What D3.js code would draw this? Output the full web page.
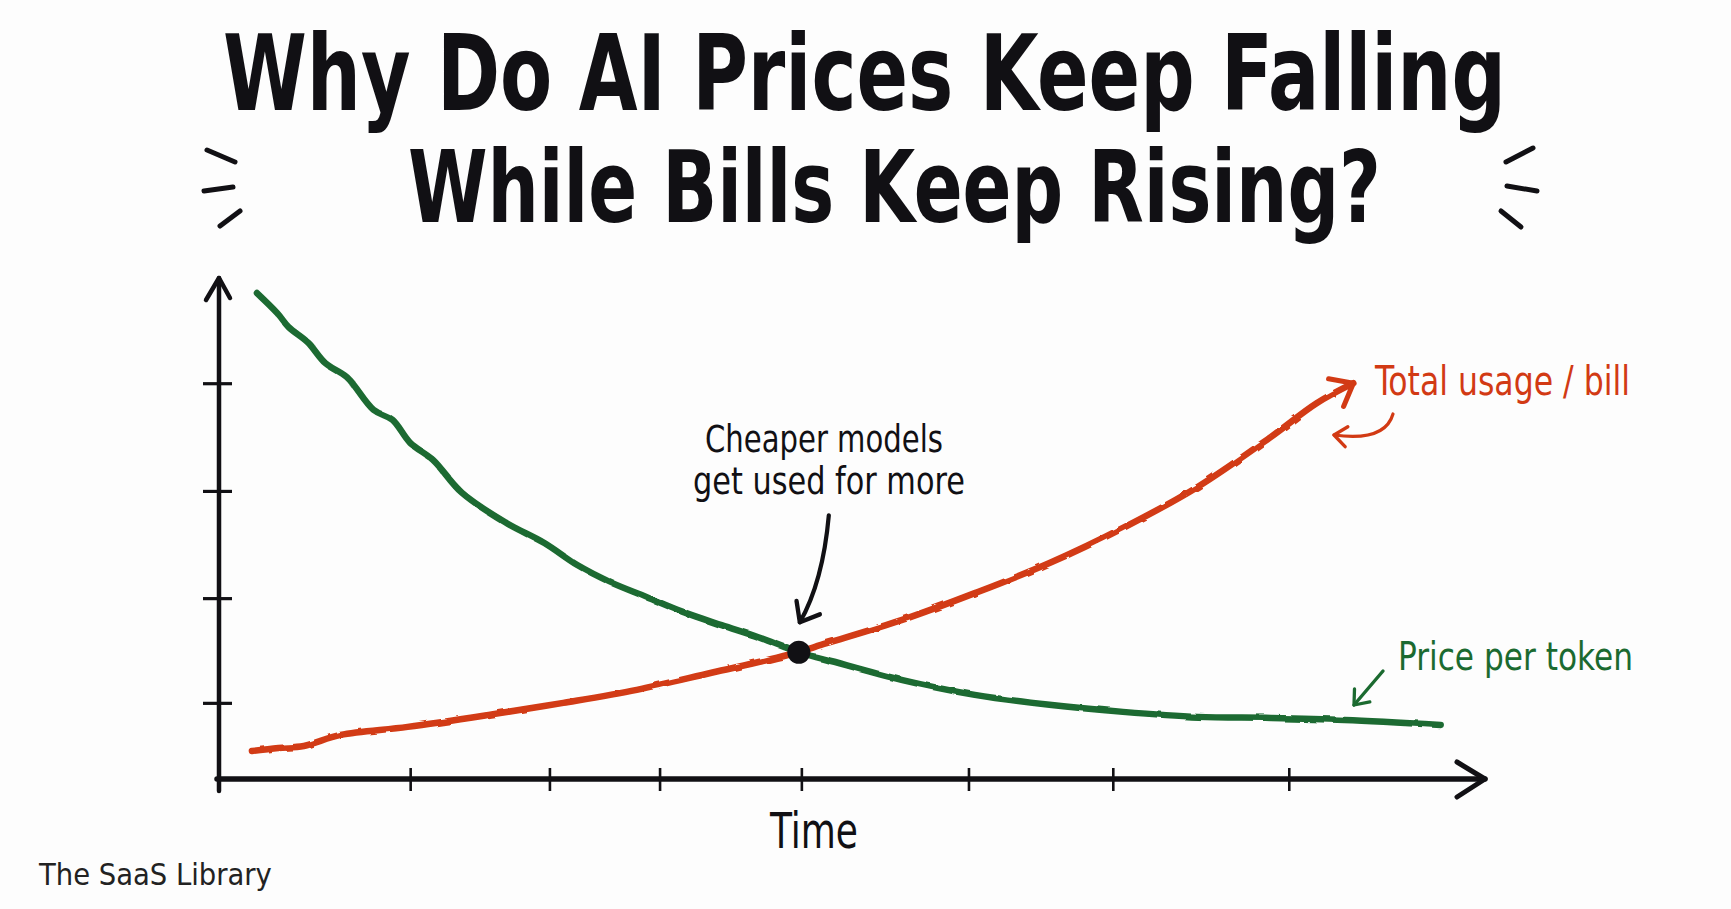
<!DOCTYPE html>
<html>
<head>
<meta charset="utf-8">
<script src="https://cdn.jsdelivr.net/npm/d3@7"></script>
<style>
  html, body { margin: 0; padding: 0; background: #fdfdfd; }
  svg { display: block; }
</style>
</head>
<body>
<svg id="chart" width="1731" height="909"></svg>
<script>
// ---------- DATA ----------
const titleLines = ["Why Do AI Prices Keep Falling", "While Bills Keep Rising?"];
const xLabel = "Time";
const sourceLabel = "The SaaS Library";
const annotationLines = ["Cheaper models", "get used for more"];
const seriesNames = ["Total usage / bill", "Price per token"];

// time (0-100) on x, relative level (0-100) on y
const priceTime  = [3.0, 4.6, 5.5, 7.0, 8.4, 10.1, 12.2, 13.7, 15.1, 16.9, 19.2, 22.7, 25.7, 28.3, 30.9, 33.8, 36.7, 39.7, 42.6, 45.8, 48.0, 53.9, 59.7, 65.6, 71.4, 77.3, 83.1, 88.9, 96.5];
const priceValue = [97.0, 93.0, 90.2, 87.2, 83.0, 80.2, 73.7, 71.7, 67.1, 63.7, 57.1, 51.1, 47.1, 42.7, 39.3, 36.3, 33.3, 30.7, 28.3, 25.3, 23.8, 19.8, 16.8, 14.8, 13.4, 12.4, 12.2, 11.8, 10.8];

const billTime  = [2.6, 4.7, 6.7, 9.6, 14.9, 21.3, 27.2, 33.0, 38.9, 45.0, 48.0, 53.9, 59.7, 65.6, 71.4, 77.3, 83.1, 86.7, 89.6];
const billValue = [5.6, 6.2, 6.6, 8.8, 10.4, 12.8, 15.2, 17.8, 21.2, 24.8, 27.1, 31.7, 37.1, 43.1, 50.1, 58.3, 68.3, 75.0, 79.0];

const crossingPoint = [45.8, 25.3];
const xTicks = [15.1, 26.1, 34.8, 46.0, 59.2, 70.6, 84.5];
const yTicks = [15.2, 36.1, 57.5, 79.0];

// ---------- SETUP ----------
const svg = d3.select("#chart");
const INK = "#111014";
const RED = "#d23a14";
const GREEN = "#1b6a30";
const FONT = "'DejaVu Sans Condensed', 'DejaVu Sans', sans-serif";

const x = d3.scaleLinear().domain([0, 100]).range([219, 1485]);
const y = d3.scaleLinear().domain([0, 100]).range([779, 278]);

svg.append("rect").attr("width", 1731).attr("height", 909).attr("fill", "#fdfdfd");

// fit a text to a target width (by font size) and cap height (by vertical stretch)
function fitText(sel, width, cap) {
  sel.attr("font-size", 100);
  const w = sel.node().getComputedTextLength();
  const fs = 100 * width / w;
  sel.attr("font-size", fs);
  const k = cap / (0.729 * fs);
  const x0 = +sel.attr("x"), y0 = +sel.attr("y");
  sel.attr("transform", `translate(${x0},${y0}) scale(1,${k}) translate(${-x0},${-y0})`);
  return sel;
}

const defs = svg.append("defs");
const f = defs.append("filter").attr("id", "wobble").attr("x", "-5%").attr("y", "-5%").attr("width", "110%").attr("height", "110%");
f.append("feTurbulence").attr("type", "fractalNoise").attr("baseFrequency", 0.06).attr("numOctaves", 2).attr("seed", 3).attr("result", "n");
f.append("feDisplacementMap").attr("in", "SourceGraphic").attr("in2", "n").attr("scale", 3);

function chevron(id, color, size) {
  defs.append("marker")
    .attr("id", id).attr("viewBox", "-12 -10 14 20")
    .attr("refX", 0).attr("refY", 0)
    .attr("markerWidth", size).attr("markerHeight", size * 1.4)
    .attr("markerUnits", "userSpaceOnUse")
    .attr("orient", "auto")
    .append("path").attr("d", "M-10,-8 L0,0 L-10,8")
    .attr("fill", "none").attr("stroke", color).attr("stroke-width", 2.6)
    .attr("stroke-linecap", "round").attr("stroke-linejoin", "round");
}
chevron("arrRed", RED, 28);
chevron("arrRedSmall", RED, 18);
chevron("arrGreen", GREEN, 18);
chevron("arrInk", INK, 24);

// ---------- TITLE (one text, two lines) ----------
{
  const t = svg.append("text").attr("fill", INK).style("font-family", FONT).style("font-weight", "bold");
  const s1 = t.append("tspan").attr("x", 223).attr("y", 110).attr("font-size", 100).text(titleLines[0]);
  const s2 = t.append("tspan").attr("x", 408).attr("y", 222).attr("font-size", 100).text(titleLines[1]);
  const fs1 = 100 * 1283 / s1.node().getComputedTextLength();
  const fs2 = 100 * 973 / s2.node().getComputedTextLength();
  s1.attr("font-size", fs1);
  s2.attr("font-size", fs2);
  const k = 77 / (0.729 * fs1);
  s2.attr("y", 110 + (222 - 110) / k);
  t.attr("transform", `translate(0,110) scale(1,${k}) translate(0,-110)`);
}

// sparkle strokes
const sparkles = [
  [[207,150],[235,162]], [[204,191],[233,187]], [[220,226],[240,211]],
  [[1506,162],[1533,148]], [[1507,186],[1537,191]], [[1501,211],[1521,227]]
];
svg.append("g").selectAll("line").data(sparkles).join("line")
  .attr("x1", d => d[0][0]).attr("y1", d => d[0][1])
  .attr("x2", d => d[1][0]).attr("y2", d => d[1][1])
  .attr("stroke", INK).attr("stroke-width", 5).attr("stroke-linecap", "round");

// ---------- AXES ----------
const axisG = svg.append("g");
axisG.append("line").attr("x1", x(0)).attr("x2", x(0)).attr("y1", y(0) + 12).attr("y2", y(100))
  .attr("stroke", INK).attr("stroke-width", 4.5).attr("stroke-linecap", "round");
axisG.append("path")
  .attr("d", `M${x(0) - 13},${y(100) + 22} L${x(0)},${y(100)} L${x(0) + 11},${y(100) + 20}`)
  .attr("fill", "none").attr("stroke", INK).attr("stroke-width", 4.5).attr("stroke-linecap", "round").attr("stroke-linejoin", "round");
axisG.append("line").attr("x1", x(0) - 2).attr("x2", x(100)).attr("y1", y(0)).attr("y2", y(0))
  .attr("stroke", INK).attr("stroke-width", 5.5).attr("stroke-linecap", "round");
axisG.append("path")
  .attr("d", `M${x(100) - 28},${y(0) - 17} L${x(100)},${y(0)} L${x(100) - 28},${y(0) + 18}`)
  .attr("fill", "none").attr("stroke", INK).attr("stroke-width", 5).attr("stroke-linecap", "round").attr("stroke-linejoin", "round");

const xAxis = d3.axisBottom(x).tickValues(xTicks).tickSize(23).tickFormat("");
const gx = svg.append("g").attr("transform", `translate(0,${y(0) - 11})`).call(xAxis);
gx.select(".domain").remove();
gx.selectAll(".tick line").attr("stroke", INK).attr("stroke-width", 2.6);

const yAxis = d3.axisLeft(y).tickValues(yTicks).tickSize(29).tickFormat("");
const gy = svg.append("g").attr("transform", `translate(${x(0) + 13},0)`).call(yAxis);
gy.select(".domain").remove();
gy.selectAll(".tick line").attr("stroke", INK).attr("stroke-width", 3.2);

fitText(svg.append("text").attr("x", 770).attr("y", 848)
  .style("font-family", FONT).attr("fill", INK).text(xLabel), 88, 36);

// ---------- SERIES ----------
const line = d3.line().x(d => x(d[0])).y(d => y(d[1])).curve(d3.curveCatmullRom.alpha(0.5));
const priceData = d3.zip(priceTime, priceValue);
const billData = d3.zip(billTime, billValue);

svg.append("path").datum(priceData).attr("d", line)
  .attr("fill", "none").attr("stroke", GREEN).attr("stroke-width", 6.5)
  .attr("stroke-linecap", "round").attr("stroke-linejoin", "round").attr("filter", "url(#wobble)");

svg.append("path").datum(billData).attr("d", line)
  .attr("fill", "none").attr("stroke", RED).attr("stroke-width", 6.5)
  .attr("stroke-linecap", "round").attr("stroke-linejoin", "round").attr("filter", "url(#wobble)");

const bl = billData[billData.length - 1], bp = billData[billData.length - 2];
svg.append("path")
  .attr("d", `M${x(bp[0])},${y(bp[1])} L${x(bl[0])},${y(bl[1])}`)
  .attr("fill", "none").attr("stroke", "none").attr("marker-end", "url(#arrRed)");

svg.append("circle").attr("cx", x(crossingPoint[0])).attr("cy", y(crossingPoint[1])).attr("r", 11.5).attr("fill", INK);

// ---------- ANNOTATIONS ----------
const annG = svg.append("g").style("font-family", FONT).attr("fill", INK);
fitText(annG.append("text").attr("x", 705).attr("y", 452).text(annotationLines[0]), 238, 27);
fitText(annG.append("text").attr("x", 693).attr("y", 494).text(annotationLines[1]), 272, 27);

const cx = x(crossingPoint[0]), cy = y(crossingPoint[1]);
svg.append("path")
  .attr("d", `M${cx + 30},${cy - 137} Q${cx + 24},${cy - 70} ${cx + 1},${cy - 30}`)
  .attr("fill", "none").attr("stroke", INK).attr("stroke-width", 4.2).attr("stroke-linecap", "round")
  .attr("marker-end", "url(#arrInk)");

fitText(svg.append("text").attr("x", 1375).attr("y", 395)
  .style("font-family", FONT).attr("fill", RED).text(seriesNames[0]), 255, 30);
svg.append("path")
  .attr("d", "M1393,414 Q1385,442 1334,435")
  .attr("fill", "none").attr("stroke", RED).attr("stroke-width", 3.2).attr("stroke-linecap", "round")
  .attr("marker-end", "url(#arrRedSmall)");

fitText(svg.append("text").attr("x", 1398).attr("y", 670)
  .style("font-family", FONT).attr("fill", GREEN).text(seriesNames[1]), 235, 28);
svg.append("path")
  .attr("d", "M1383,671 L1354,705")
  .attr("fill", "none").attr("stroke", GREEN).attr("stroke-width", 3.4).attr("stroke-linecap", "round")
  .attr("marker-end", "url(#arrGreen)");

fitText(svg.append("text").attr("x", 39).attr("y", 885)
  .style("font-family", FONT).attr("fill", "#222").text(sourceLabel), 233, 22);
</script>
</body>
</html>
